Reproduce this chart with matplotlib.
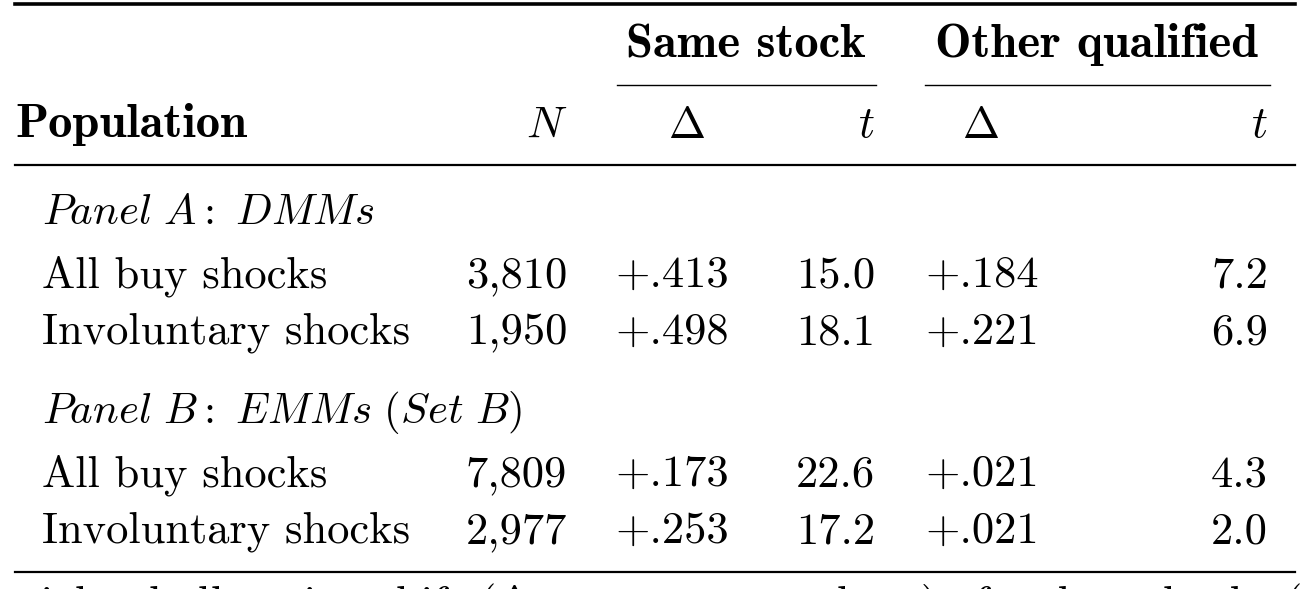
import matplotlib
matplotlib.use("Agg")
import matplotlib.pyplot as plt
from matplotlib.lines import Line2D

plt.rcParams['mathtext.fontset'] = 'cm'

panels = ["Panel A: DMMs", "Panel B: EMMs (Set B)"]
populations = ["All buy shocks", "Involuntary shocks"]
n_vals = [["3,810", "1,950"], ["7,809", "2,977"]]
same_delta = [["+.413", "+.498"], ["+.173", "+.253"]]
same_t = [["15.0", "18.1"], ["22.6", "17.2"]]
other_delta = [["+.184", "+.221"], ["+.021", "+.021"]]
other_t = [["7.2", "6.9"], ["4.3", "2.0"]]

W, H = 1311, 589
fig = plt.figure(figsize=(W/100, H/100), dpi=100)
ax = fig.add_axes([0, 0, 1, 1])
ax.set_xlim(0, W); ax.set_ylim(H, 0); ax.axis('off')

fs = 32
rm = dict(fontfamily='cmr10', fontsize=fs, va='center')
bf = dict(fontfamily='cmb10', fontsize=35, va='center')

def hline(y, x0, x1, lw):
    ax.add_line(Line2D([x0, x1], [y, y], color='black', lw=lw))

hline(4, 15, 1295, 2.6)
ax.text(746, 45, "Same stock", ha='center', **bf)
ax.text(1097, 45, "Other qualified", ha='center', **bf)
hline(85, 617, 876, 1.0)
hline(85, 925, 1270, 1.0)
ax.text(15, 125, "Population", ha='left', **bf)
ax.text(567, 125, "$N$", ha='right', fontsize=fs, va='center')
ax.text(686, 125, r"$\Delta$", ha='center', fontsize=fs, va='center')
ax.text(875, 125, "$t$", ha='right', fontsize=fs, va='center')
ax.text(980, 125, r"$\Delta$", ha='center', fontsize=fs, va='center')
ax.text(1268, 125, "$t$", ha='right', fontsize=fs, va='center')
hline(165, 15, 1295, 1.6)

panel_y = [212, 412]
row_y = [[276, 333], [475, 532]]
for p in range(2):
    label = panels[p].replace(" ", r"\ ").replace(":", "{:}")
    ax.text(42, panel_y[p], r"$\mathit{" + label + "}$", ha='left', fontsize=fs-1, va='center')
    for r in range(2):
        y = row_y[p][r]
        ax.text(42, y, populations[r], ha='left', **rm)
        ax.text(567, y, n_vals[p][r], ha='right', **rm)
        ax.text(615, y, same_delta[p][r], ha='left', **rm)
        ax.text(875, y, same_t[p][r], ha='right', **rm)
        ax.text(925, y, other_delta[p][r], ha='left', **rm)
        ax.text(1268, y, other_t[p][r], ha='right', **rm)
hline(572, 15, 1295, 1.6)
ax.text(40, 606, r"ighted allocation shift ($\Delta$ = post $-$ pre share) after buy shocks (value",
        ha='left', **rm)

fig.savefig("out.png", dpi=100)
